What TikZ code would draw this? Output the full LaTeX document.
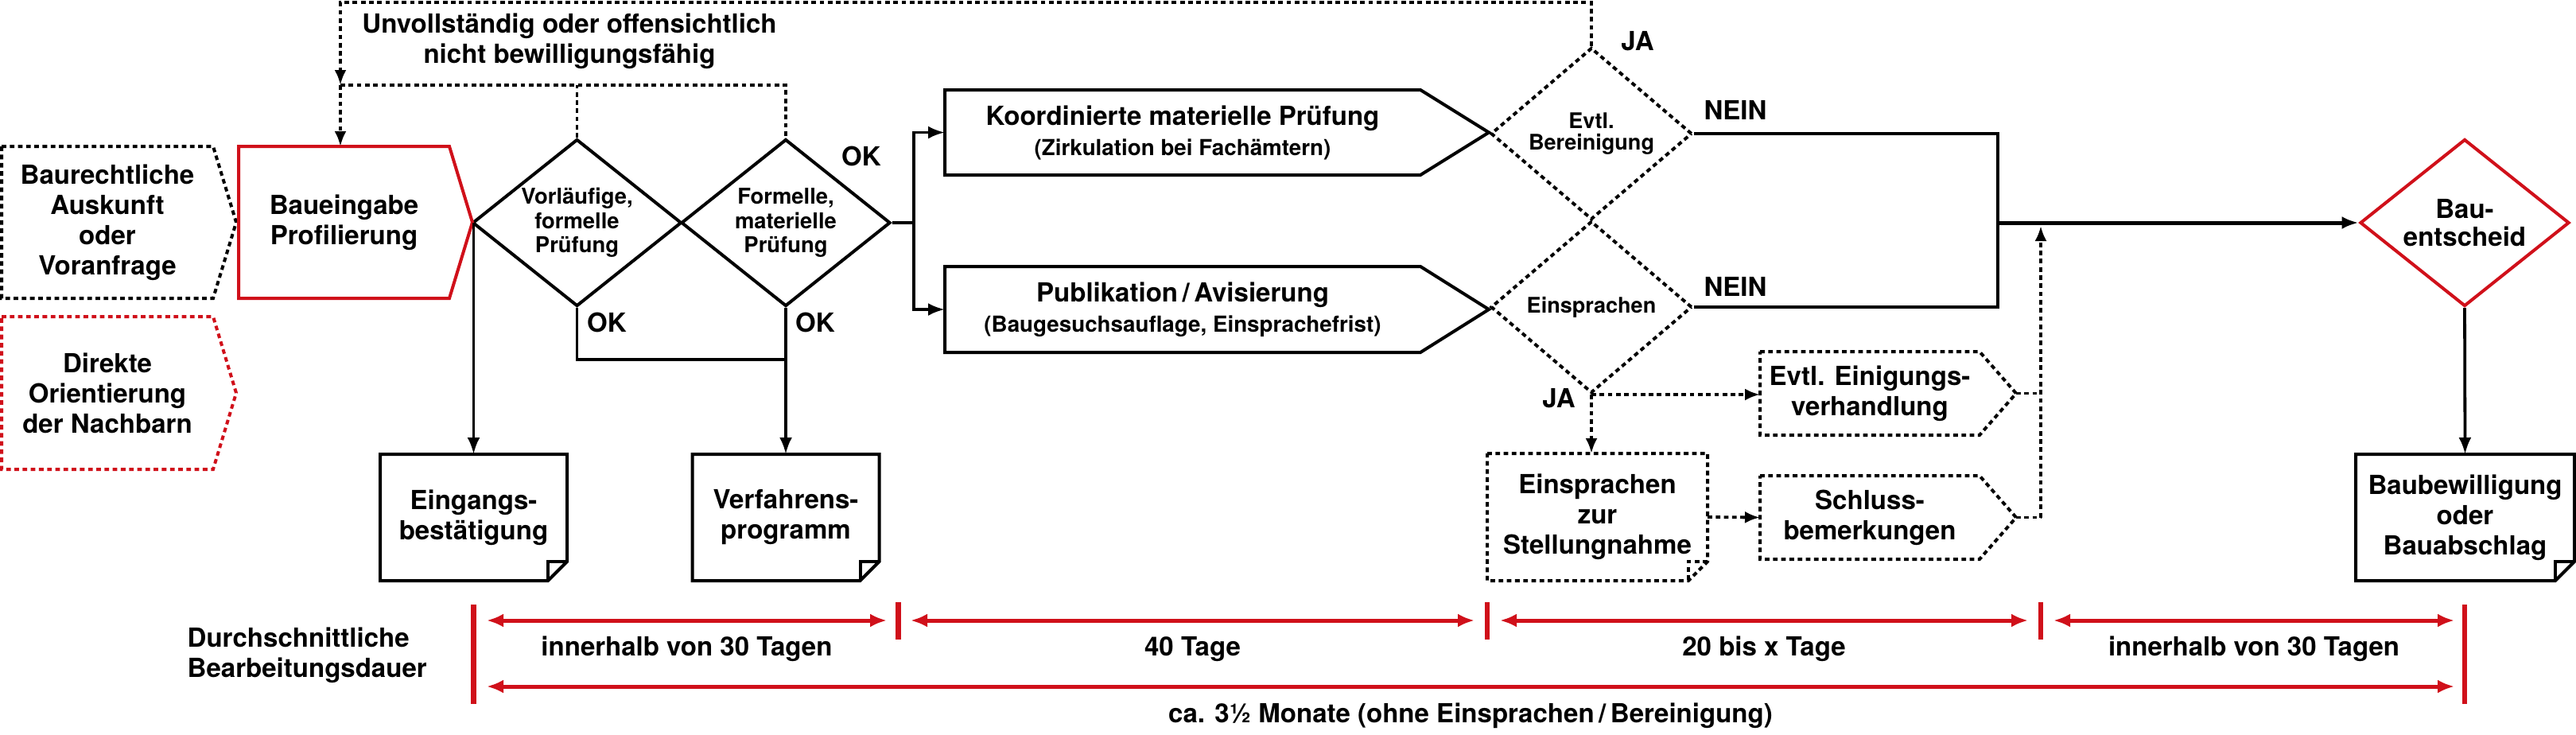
\documentclass[tikz,border=0pt]{standalone}
\usepackage{fontspec}
\setmainfont{TeX Gyre Heros}
\usepackage{xcolor}
\usepackage{tikz}
\usetikzlibrary{positioning,arrows.meta,shapes.geometric}
\definecolor{bred}{RGB}{208,16,26}
\newcommand{\subtxt}{\fontsize{7.9}{9}\selectfont}

\begin{document}
\begin{tikzpicture}[font=\bfseries\fontsize{9.4}{10.8}\selectfont,
      lbl/.style={inner sep=0pt,align=center},
      frame/.style={inner sep=0pt,outer sep=0pt,align=center},
      box/.style={line width=0.04cm},
      rbox/.style={box,draw=bred},
      dbox/.style={box,dash pattern=on 0.058cm off 0.045cm},
      rdbox/.style={dbox,draw=bred},
      conn/.style={draw,line width=0.038cm},
      arr/.style={conn,-{Latex[length=0.21cm,width=0.16cm]}},
      dline/.style={conn,dash pattern=on 0.058cm off 0.045cm},
      darr/.style={dline,-{Latex[length=0.19cm,width=0.15cm]}},
      dia/.style={diamond,draw,line width=0.04cm,inner sep=0pt,align=center,
        minimum width=2.63cm,minimum height=2.1cm,shape aspect=1.25,
        font=\bfseries\fontsize{7.8}{8.7}\selectfont},
      ddia/.style={dia,dash pattern=on 0.058cm off 0.045cm,minimum width=2.53cm,
        minimum height=2.16cm,shape aspect=1.17,font=\bfseries\fontsize{7.7}{7.8}\selectfont},
      redtick/.style={draw=bred,line width=0.065cm},
      redarr/.style={draw=bred,line width=0.05cm,
        {Latex[length=0.21cm,width=0.17cm]}-{Latex[length=0.21cm,width=0.17cm]}}]
    \useasboundingbox (0,0) rectangle (32.39,-9.23);
    % Eingabe
    \node[frame,minimum width=2.66cm,minimum height=1.91cm] (bauaus) at (1.35,-2.795) {Baurechtliche\\Auskunft\\oder\\Voranfrage};
    \node[frame,minimum width=2.66cm,minimum height=1.92cm] (nachbarn) at (1.35,-4.94) {Direkte\\Orientierung\\der Nachbarn};
    \node[frame,minimum width=2.65cm,minimum height=1.91cm] (baueing) at (4.325,-2.795) {Baueingabe\\Profilierung};
    \node[dia] (vorl) at (7.255,-2.80) {Vorläufige,\\formelle\\Prüfung};
    \node[dia] (form) at (9.88,-2.80) {Formelle,\\materielle\\Prüfung};
    \node[frame,minimum width=2.35cm,minimum height=1.59cm] (eing) at (5.955,-6.505) {Eingangs-\\bestätigung};
    \node[frame,minimum width=2.35cm,minimum height=1.59cm] (verf) at (9.88,-6.505) {Verfahrens-\\programm};
    % Pruefung und Publikation
    \node[frame,minimum width=5.98cm,minimum height=1.07cm] (kmp) at (14.87,-1.665) {Koordinierte materielle Prüfung\\{\subtxt (Zirkulation bei Fachämtern)}};
    \node[frame,minimum width=5.98cm,minimum height=1.08cm] (publ) at (14.87,-3.89) {Publikation\,/\,Avisierung\\{\subtxt (Baugesuchsauflage, Einsprachefrist)}};
    \node[ddia] (evtlb) at (20.01,-1.68) {Evtl.\\Bereinigung};
    \node[ddia] (einspr) at (20.01,-3.86) {Einsprachen};
    \node[frame,minimum width=2.76cm,minimum height=1.05cm] (einig) at (23.51,-4.945) {Evtl. Einigungs-\\verhandlung};
    \node[frame,minimum width=2.76cm,minimum height=1.05cm] (schluss) at (23.51,-6.505) {Schluss-\\bemerkungen};
    \node[frame,minimum width=2.77cm,minimum height=1.60cm] (stell) at (20.085,-6.50) {Einsprachen\\zur\\Stellungnahme};
    % Entscheid
    \node[dia,draw=bred,font=\bfseries\fontsize{9.4}{10}\selectfont] (bauent) at (30.99,-2.80) {Bau-\\entscheid};
    \node[frame,minimum width=2.75cm,minimum height=1.59cm] (baubew) at (30.995,-6.505) {Baubewilligung\\oder\\Bauabschlag};
    % Umrisse
    \foreach \n/\t/\s in {bauaus/0.29cm/dbox,nachbarn/0.29cm/rdbox,baueing/0.29cm/rbox,kmp/0.86cm/box,publ/0.86cm/box,einig/0.46cm/dbox,schluss/0.46cm/dbox}
      \draw[\s] (\n.north west) -- (\n.north east) -- ([xshift=\t]\n.east) -- (\n.south east) -- (\n.south west) -- cycle;
    \foreach \n/\s in {eing/box,verf/box,baubew/box,stell/dbox} {
      \draw[\s] (\n.north west) -- (\n.north east) -- ([yshift=0.24cm]\n.south east) -- ([xshift=-0.24cm]\n.south east) -- (\n.south west) -- cycle;
      \draw[\s] ([yshift=0.24cm]\n.south east) -- ([xshift=-0.24cm,yshift=0.24cm]\n.south east) -- ([xshift=-0.24cm]\n.south east);
    }
    % Labels
    \node[lbl] (unvoll) at (7.16,-0.52) {Unvollständig oder offensichtlich\\nicht bewilligungsfähig};
    \node[lbl] (ok1) at (10.83,-1.96) {OK};
    \node[lbl] (ok2) at (7.63,-4.05) {OK};
    \node[lbl] (ok3) at (10.25,-4.05) {OK};
    \node[lbl] (ja1) at (20.59,-0.52) {JA};
    \node[lbl] (ja2) at (19.60,-5.01) {JA};
    \node[lbl] (nein1) at (21.82,-1.38) {NEIN};
    \node[lbl] (nein2) at (21.82,-3.60) {NEIN};
    % Rueckweisung
    \coordinate (fb) at (4.28,-1.07);
    \coordinate (fbtop) at (20.01,-0.03);
    \draw[darr] (evtlb.north) -- (fbtop) -| (fb);
    \draw[darr] (fb) -- (fb |- baueing.north);
    \draw[dline] (fb) -- (form.north |- fb) -- (form.north);
    \draw[dline] (vorl.north) -- (vorl.north |- fb);
    % Vorpruefung
    \coordinate (okj) at (9.88,-4.52);
    \draw[arr] (eing.north |- vorl.west) -- (eing.north);
    \draw[conn] (vorl.south) |- (okj);
    \draw[arr] (form.south) -- (verf.north);
    \coordinate (br) at (11.49,-2.80);
    \draw[conn] (form.east) -- (br);
    \draw[arr] (br) |- (kmp.west);
    \draw[arr] (br) |- (publ.west);
    % NEIN
    \coordinate (nj) at (25.12,-2.80);
    \draw[conn] (evtlb.east) -| (nj) |- (einspr.east);
    \draw[arr,line width=0.05cm] (nj) -- (bauent.west);
    % JA
    \draw[darr] (einspr.south) -- (einspr.south -| einig.west);
    \draw[darr] (einspr.south) -- (einspr.south |- stell.north);
    \draw[darr] (stell.east) -- (schluss.west);
    \coordinate (sj) at (25.66,-6.505);
    \draw[dline] ([xshift=0.46cm]einig.east) -- (einig.east -| sj);
    \draw[dline] ([xshift=0.46cm]schluss.east) -- (sj);
    \draw[darr,shorten >=0.04cm] (sj) -- (sj |- nj);
    \draw[arr] (bauent.south) -- (baubew.north);
    % Dauer
    \node[lbl,align=left,anchor=west] (dauer) at (2.35,-8.24) {Durchschnittliche\\Bearbeitungsdauer};
    \coordinate (t0) at (5.955,-7.80);
    \coordinate (t1) at (11.295,-7.80);
    \coordinate (t2) at (18.70,-7.80);
    \coordinate (t3) at (25.66,-7.80);
    \coordinate (t4) at (30.99,-7.80);
    \foreach \t in {t0,t4}
      \draw[redtick] ([yshift=0.20cm]\t) -- ([yshift=-1.05cm]\t);
    \foreach \t in {t1,t2,t3}
      \draw[redtick] ([yshift=0.23cm]\t) -- ([yshift=-0.24cm]\t);
    \draw[redarr] ([xshift=0.165cm]t0) -- ([xshift=-0.145cm]t1) node[lbl,midway,anchor=base,yshift=-0.445cm] {innerhalb von 30 Tagen};
    \draw[redarr] ([xshift=0.155cm]t1) -- ([xshift=-0.16cm]t2) node[lbl,midway,anchor=base,yshift=-0.445cm] {40 Tage};
    \draw[redarr] ([xshift=0.16cm]t2) -- ([xshift=-0.16cm]t3) node[lbl,midway,anchor=base,yshift=-0.445cm] {20 bis x Tage};
    \draw[redarr] ([xshift=0.16cm]t3) -- ([xshift=-0.13cm]t4) node[lbl,midway,anchor=base,yshift=-0.445cm] {innerhalb von 30 Tagen};
    \draw[redarr] ([xshift=0.165cm,yshift=-0.83cm]t0) -- ([xshift=-0.13cm,yshift=-0.83cm]t4) node[lbl,midway,anchor=base,yshift=-0.455cm] {ca. 3½ Monate (ohne Einsprachen\,/\,Bereinigung)};
  \end{tikzpicture}
\end{document}
